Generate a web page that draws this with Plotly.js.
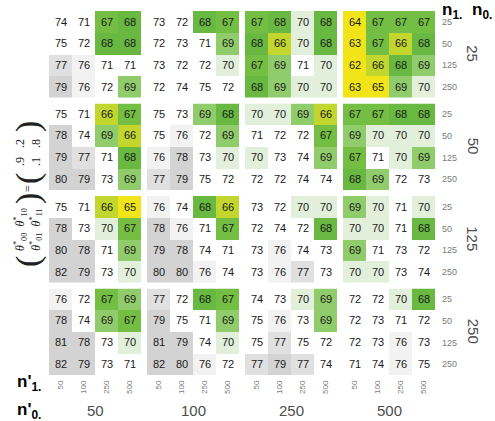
<!DOCTYPE html>
<html>
<head>
<meta charset="utf-8">
<script src="https://cdn.plot.ly/plotly-3.0.1.min.js"></script>
<style>
  html, body { margin: 0; padding: 0; background: #ffffff; }
  #chart { width: 495px; height: 421px; }
</style>
</head>
<body>
<div id="chart"></div>
<script>
// Facet levels
const n0Levels = ['25', '50', '125', '250'];      // facet rows (right strip)
const n1Levels = ['25', '50', '125', '250'];      // rows inside each facet
const n0pLevels = ['50', '100', '250', '500'];    // facet columns (bottom strip)
const n1pLevels = ['50', '100', '250', '500'];    // columns inside each facet

// Accuracy (%) for each n0 facet row: one line per n1, 16 values = n0' facets x n1'
const accN0_25 = [
  [74, 71, 67, 68, 73, 72, 68, 67, 67, 68, 70, 68, 64, 67, 67, 67],
  [75, 72, 68, 68, 72, 73, 71, 69, 68, 66, 70, 68, 63, 67, 66, 68],
  [77, 76, 71, 71, 73, 72, 72, 70, 67, 69, 71, 70, 62, 66, 68, 69],
  [79, 76, 72, 69, 72, 74, 75, 72, 68, 69, 70, 70, 63, 65, 69, 70]
];
const accN0_50 = [
  [75, 71, 66, 67, 75, 73, 69, 68, 70, 70, 69, 66, 67, 67, 68, 68],
  [78, 74, 69, 66, 75, 76, 72, 69, 71, 72, 72, 67, 69, 70, 70, 70],
  [79, 77, 71, 68, 76, 78, 73, 70, 70, 73, 74, 69, 67, 71, 70, 69],
  [80, 79, 73, 69, 77, 79, 75, 72, 72, 72, 74, 74, 68, 69, 72, 73]
];
const accN0_125 = [
  [75, 71, 66, 65, 76, 74, 68, 66, 73, 72, 70, 70, 69, 70, 71, 70],
  [78, 73, 70, 67, 78, 76, 71, 67, 72, 74, 72, 68, 70, 70, 71, 68],
  [80, 78, 71, 69, 79, 78, 74, 71, 73, 76, 74, 73, 69, 71, 73, 72],
  [82, 79, 73, 70, 80, 80, 76, 74, 73, 76, 77, 73, 70, 70, 73, 74]
];
const accN0_250 = [
  [76, 72, 67, 69, 77, 72, 68, 67, 74, 73, 70, 69, 72, 72, 70, 68],
  [78, 74, 69, 67, 79, 75, 71, 69, 75, 76, 73, 69, 72, 73, 71, 72],
  [81, 78, 73, 70, 81, 79, 74, 70, 75, 77, 75, 72, 72, 73, 76, 73],
  [82, 79, 73, 71, 82, 80, 76, 72, 77, 79, 77, 74, 71, 74, 76, 75]
];
const accByN0 = [accN0_25, accN0_50, accN0_125, accN0_250];

// Stepped fill: yellow for the lowest scores, greens, white middle, greys high
const zMin = 61.5, zMax = 82.5;
const bands = [
  [61.5, 65.5, '#f1e51a'],
  [65.5, 66.5, '#c3d62d'],
  [66.5, 67.5, '#74be43'],
  [67.5, 68.5, '#68b841'],
  [68.5, 69.5, '#91cc6c'],
  [69.5, 70.5, '#e2efda'],
  [70.5, 75.5, '#ffffff'],
  [75.5, 76.5, '#f1f2f1'],
  [76.5, 77.5, '#e0e0e0'],
  [77.5, 82.5, '#d3d3d3']
];
const colorscale = [];
bands.forEach(([lo, hi, col]) => {
  colorscale.push([(lo - zMin) / (zMax - zMin), col]);
  colorscale.push([(hi - zMin) / (zMax - zMin), col]);
});

// Page geometry (pixels)
const W = 495, H = 421;
const M = { l: 49, r: 60, t: 11, b: 46 };
const plotW = W - M.l - M.r, plotH = H - M.t - M.b;
const panelW = 92, panelH = 86.5, gapX = 6, gapY = 6;
const px2x = p => (p - M.l) / plotW;
const py2y = p => (H - M.b - p) / plotH;

const FONT = 'Liberation Sans, Arial, Helvetica, sans-serif';
const SERIF = 'Liberation Serif, DejaVu Serif, serif';

const data = [];
const layout = {
  width: W, height: H,
  margin: M,
  paper_bgcolor: '#ffffff',
  plot_bgcolor: '#ffffff',
  showlegend: false,
  font: { family: FONT, color: '#4d4d4d' },
  annotations: []
};

for (let r = 0; r < 4; r++) {
  for (let c = 0; c < 4; c++) {
    const idx = r * 4 + c + 1;
    const sfx = idx === 1 ? '' : String(idx);
    const z = accByN0[r].map(row => row.slice(c * 4, c * 4 + 4));
    data.push({
      type: 'heatmap',
      x: n1pLevels,
      y: n1Levels,
      z: z,
      zmin: zMin, zmax: zMax,
      colorscale: colorscale,
      showscale: false,
      xgap: 0, ygap: 0,
      texttemplate: '%{z}',
      textfont: { family: FONT, size: 11, color: '#1a1a1a' },
      hoverinfo: 'skip',
      xaxis: 'x' + sfx,
      yaxis: 'y' + sfx
    });

    const x0 = c * (panelW + gapX);
    const yTop = r * (panelH + gapY);
    layout['xaxis' + sfx] = {
      type: 'category',
      domain: [x0 / plotW, (x0 + panelW) / plotW],
      anchor: 'y' + sfx,
      showgrid: false, zeroline: false, showline: false, ticks: '',
      showticklabels: r === 3,
      tickangle: -90,
      ticklabelstandoff: 3,
      tickfont: { family: FONT, size: 8, color: '#7a7a7a' },
      fixedrange: true
    };
    layout['yaxis' + sfx] = {
      type: 'category',
      domain: [(plotH - yTop - panelH) / plotH, (plotH - yTop) / plotH],
      anchor: 'x' + sfx,
      autorange: 'reversed',
      side: 'right',
      showgrid: false, zeroline: false, showline: false, ticks: '',
      showticklabels: c === 3,
      ticklabelstandoff: 6,
      tickfont: { family: FONT, size: 9, color: '#7a7a7a' },
      fixedrange: true
    };
  }
}

const ann = layout.annotations;
// Right strip: n0 levels
n0Levels.forEach((lab, r) => {
  const cy = M.t + r * (panelH + gapY) + panelH / 2;
  ann.push({
    xref: 'paper', yref: 'paper', x: px2x(473), y: py2y(cy),
    text: lab, showarrow: false, textangle: 90,
    xanchor: 'center', yanchor: 'middle',
    font: { family: FONT, size: 15, color: '#4d4d4d' }
  });
});
// Bottom strip: n0' levels
n0pLevels.forEach((lab, c) => {
  const cx = M.l + c * (panelW + gapX) + panelW / 2;
  ann.push({
    xref: 'paper', yref: 'paper', x: px2x(cx), y: py2y(410),
    text: lab, showarrow: false,
    xanchor: 'center', yanchor: 'middle',
    font: { family: FONT, size: 15, color: '#4d4d4d' }
  });
});

// Variable names
const varLabel = (txt, cx, cy) => ann.push({
  xref: 'paper', yref: 'paper', x: px2x(cx), y: py2y(cy),
  text: txt, showarrow: false, xanchor: 'center', yanchor: 'middle',
  font: { family: FONT, size: 17, color: '#000000' }
});
varLabel('<b>n<sub>1.</sub></b>', 452, 11);
varLabel('<b>n<sub>0.</sub></b>', 482, 11);
varLabel("<b>n'<sub>1.</sub></b>", 29, 383);
varLabel("<b>n'<sub>0.</sub></b>", 29, 411);

// Left label: true parameter matrix, written sideways
const sideText = (txt, cy, size, cx) => ann.push({
  xref: 'paper', yref: 'paper', x: px2x(cx === undefined ? 28 : cx), y: py2y(cy),
  text: txt, showarrow: false, textangle: -90,
  xanchor: 'center', yanchor: 'middle',
  font: { family: SERIF, size: size, color: '#222222' }
});
sideText('(', 262, 34);
sideText('<i>θ</i><sup>*</sup><sub>00</sub>  <i>θ</i><sup>*</sup><sub>10</sub><br><i>θ</i><sup>*</sup><sub>01</sub>  <i>θ</i><sup>*</sup><sub>11</sub>', 230, 12);
sideText(')', 199, 34);
sideText('=', 189, 12);
sideText('(', 179, 34);
sideText('.9   .2<br>.1   .8', 153, 12);
sideText(')', 127, 34);

Plotly.newPlot('chart', data, layout, { staticPlot: true, displayModeBar: false });
</script>
</body>
</html>
